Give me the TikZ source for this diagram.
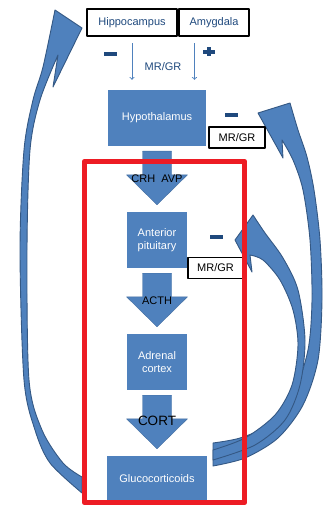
\documentclass[tikz,border=0pt]{standalone}
\usepackage{fontspec}
\setmainfont{Liberation Sans}
\usetikzlibrary{arrows,positioning,calc}
\definecolor{boxblue}{RGB}{79,129,189}
\definecolor{edgeblue}{RGB}{52,88,132}
\definecolor{textblue}{RGB}{31,73,125}
\definecolor{redframe}{RGB}{237,28,36}
\newcommand \blockdown[3]
{
\coordinate (top)  at ($(#1.south)+(0,5)$);  % shaft start
\coordinate (tip)  at ($(#2.north)+(0,-7)$); % point
\coordinate (wing) at ($(tip)+(0,-30)$);     % head base
\filldraw[blockarrow] ($(top)+(-14.5,0)$)--($(top)+(14.5,0)$)--($(wing)+(14.5,0)$)--($(wing)+(30.5,0)$)
  --(tip)--($(wing)+(-30.5,0)$)--($(wing)+(-14.5,0)$)--cycle;
\node[flowlbl] at ($(#1)!0.5!(#2)$) {#3};
}

\begin{document}
\begin{tikzpicture}[x=1pt, y=-1pt, line join=round,
  bluebox/.style={fill=boxblue, text=white, inner sep=0pt, align=center, font=\fontsize{11}{13}\selectfont},
  regionbox/.style={draw=black, line width=2.3pt, text=textblue, inner sep=0pt, font=\fontsize{11}{13}\selectfont},
  receptor/.style={draw=black, line width=1.8pt, fill=white, inner sep=0pt, font=\fontsize{11}{13}\selectfont},
  negsign/.style={fill=textblue, minimum width=13pt, minimum height=3.5pt, inner sep=0pt},
  thinarrow/.style={->, draw=boxblue, line width=0.9pt},
  blockarrow/.style={fill=boxblue, draw=boxblue!85!black, line width=0.4pt},
  curvearrow/.style={fill=boxblue, draw=edgeblue, line width=0.9pt},
  flowlbl/.style={inner sep=0pt, font=\fontsize{11}{13}\selectfont}]
\useasboundingbox (0,0) rectangle (324,505);

% feedback arrows
\filldraw[curvearrow] plot[smooth] coordinates {(82,477) (63,463) (42,430) (29,380) (27,250) (30,150) (40,100) (58,55)}
  -- (53,87) -- (82,28)
  -- plot[smooth] coordinates {(55,10) (43,67) (33,100) (24,150) (20,250) (24,380) (35,430) (50,463) (82,493)} -- cycle;
\filldraw[curvearrow] plot[smooth] coordinates {(213,443) (240,438) (268,425) (293,395) (308,350) (312,300) (310,240) (303,190) (293,160) (282,140)}
  -- (283,158) -- (258,113)
  -- plot[smooth] coordinates {(290,103) (298,130) (307,157) (314,190) (320,240) (322,300) (318,360) (303,405) (278,438) (245,458) (213,466)} -- cycle;
\filldraw[curvearrow] plot[smooth] coordinates {(213,450) (245,438) (275,415) (292,385) (298,345) (293,310) (280,280) (263,260) (250,255)}
  -- (252,272) -- (235,240)
  -- plot[smooth] coordinates {(253,215) (265,233) (283,258) (298,290) (305,340) (300,385) (285,420) (255,445) (213,460)} -- cycle;

% boxes
\node[regionbox, minimum width=90pt, minimum height=27pt] (hippo) at (132,22.5) {Hippocampus};
\node[regionbox, minimum width=70pt, minimum height=27pt] (amyg)  at (214,22.5) {Amygdala};
\node[bluebox, minimum width=98pt, minimum height=56pt]  (hypo)   at (157,118) {Hypothalamus};
\node[bluebox, minimum width=60pt, minimum height=56pt]  (pit)    at (157,240) {Anterior\\pituitary};
\node[bluebox, minimum width=60pt, minimum height=56pt]  (adr)    at (157,362) {Adrenal\\cortex};
\node[bluebox, minimum width=100pt, minimum height=46pt] (gluco)  at (157,479) {Glucocorticoids};
\node[receptor, minimum width=56pt, minimum height=21pt] (mrhypo) at (237,137.5) {MR/GR};
\node[receptor, minimum width=55pt, minimum height=21pt] (mrpit)  at (215.5,268) {MR/GR};

% inputs to hypothalamus
\coordinate (amygout) at ($(amyg.south west)!0.23!(amyg.south east)$);
\draw[thinarrow, shorten <=6pt, shorten >=10pt] (hippo.south) -- (hippo.south |- hypo.north);
\draw[thinarrow, shorten <=6pt, shorten >=10pt] (amygout) -- (amygout |- hypo.north);
\node[flowlbl, text=textblue] (mrmid) at (163,67) {MR/GR};
\node[negsign] (neghippo) at (110.5,54) {};
\node[negsign, minimum width=12pt, minimum height=4pt] (posamyg) at (208.5,52) {};
\node[negsign, minimum width=4pt, minimum height=9pt] at (posamyg) {};
\node[negsign] (neghypo) at (231.5,115) {};
\node[negsign] (negpit)  at (216.5,237) {};

% axis
\blockdown{hypo}{pit}{CRH\hspace{6pt}AVP}
\blockdown{pit}{adr}{ACTH}
\blockdown{adr}{gluco}{\fontsize{13.5}{15}\selectfont CORT}

\draw[redframe, line width=5.5pt] (84.5,161.5) rectangle (244.5,502.5);
\end{tikzpicture}
\end{document}
